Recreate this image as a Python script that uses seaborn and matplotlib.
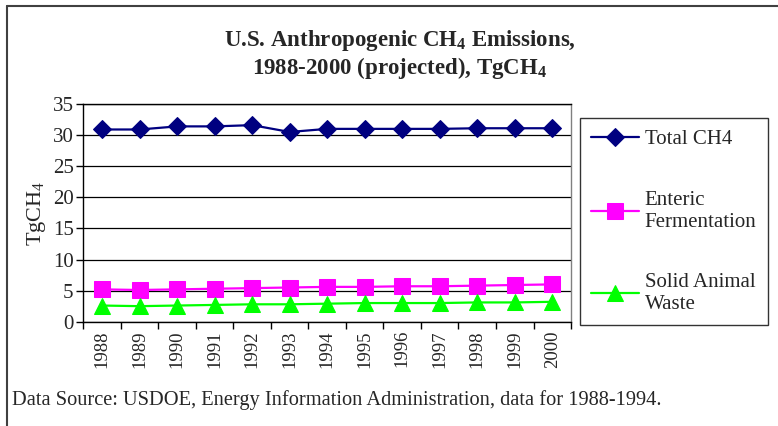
import numpy as np
import pandas as pd
import seaborn as sns
import matplotlib.pyplot as plt
from matplotlib.lines import Line2D

years = ["1988", "1989", "1990", "1991", "1992", "1993", "1994",
         "1995", "1996", "1997", "1998", "1999", "2000"]
total_ch4 = [30.9, 30.9, 31.4, 31.4, 31.6, 30.5, 31.0, 31.0, 31.0, 31.0, 31.1, 31.1, 31.1]
enteric = [5.2, 5.1, 5.2, 5.3, 5.4, 5.5, 5.6, 5.6, 5.7, 5.7, 5.8, 5.9, 6.0]
solid_waste = [2.6, 2.5, 2.6, 2.7, 2.8, 2.8, 2.9, 3.0, 3.0, 3.0, 3.1, 3.1, 3.2]

series_names = ["Total CH4", "Enteric\nFermentation", "Solid Animal\nWaste"]
series_colors = ["#000080", "#FF00FF", "#00FF00"]
series_markers = ["D", "s", "^"]
marker_sizes = [9.5, 11, 11.5]

sns.set_theme(style="white")
plt.rcParams["font.family"] = ["Liberation Serif", "DejaVu Serif"]
plt.rcParams["mathtext.default"] = "regular"

df = pd.DataFrame({
    "year": years * 3,
    "value": total_ch4 + enteric + solid_waste,
    "series": np.repeat(series_names, len(years)),
})
df["x"] = np.tile(np.arange(len(years)), 3)

fig = plt.figure(figsize=(7.78, 4.26), dpi=100)
ax = fig.add_axes([0.1071, 0.2448, 0.6269, 0.5111])

for name, col, mk, ms in zip(series_names, series_colors, series_markers, marker_sizes):
    sub = df[df["series"] == name]
    sns.lineplot(data=sub, x="x", y="value", ax=ax, color=col, marker=mk,
                 markersize=ms, markeredgecolor=col, linewidth=1.6, label=name)

ax.set_xlim(-0.5, len(years) - 0.5)
ax.set_ylim(0, 35)
ax.set_yticks(range(0, 36, 5))
ax.set_xticks(range(len(years)))
ax.set_xticklabels(years, rotation=90, fontsize=13.5)
ax.set_xticks(np.arange(-0.5, len(years), 1), minor=True)
ax.tick_params(axis="x", which="major", length=0, pad=6)
ax.tick_params(axis="x", which="minor", length=5, width=1, color="black", direction="out", bottom=True)
ax.tick_params(axis="y", length=5, width=1, color="black", direction="out", left=True, labelsize=15, pad=2)
ax.yaxis.grid(True, color="black", linewidth=0.9)
ax.set_axisbelow(True)
for sp in ax.spines.values():
    sp.set_color("black")
    sp.set_linewidth(1)
ax.spines["right"].set_color("#808080")
ax.set_xlabel("")
ax.set_ylabel("TgCH$_4$", fontsize=16, labelpad=3)

leg = ax.legend(loc="upper left", bbox_to_anchor=(0.7455, 0.723), bbox_transform=fig.transFigure,
                frameon=True, fancybox=False, edgecolor="black", fontsize=15,
                labelspacing=2.0, handlelength=2.3, handletextpad=0.25, borderpad=0.55,
                borderaxespad=0)
leg.get_frame().set_linewidth(1)

fig.text(0.514, 0.905, "U.S. Anthropogenic CH$_4$ Emissions,", ha="center", va="center",
         fontsize=16.5, fontweight="bold")
fig.text(0.514, 0.84, "1988-2000 (projected), TgCH$_4$", ha="center", va="center",
         fontsize=16.5, fontweight="bold")
fig.text(0.015, 0.06, "Data Source: USDOE, Energy Information Administration, data for 1988-1994.",
         ha="left", va="center", fontsize=14.7)

fig.add_artist(Line2D([0.009, 0.009], [0.0, 0.986], transform=fig.transFigure, color="#404040", linewidth=1.5))
fig.add_artist(Line2D([0.009, 1.0], [0.986, 0.986], transform=fig.transFigure, color="#404040", linewidth=1.5))

fig.savefig("out.png", dpi=100)
